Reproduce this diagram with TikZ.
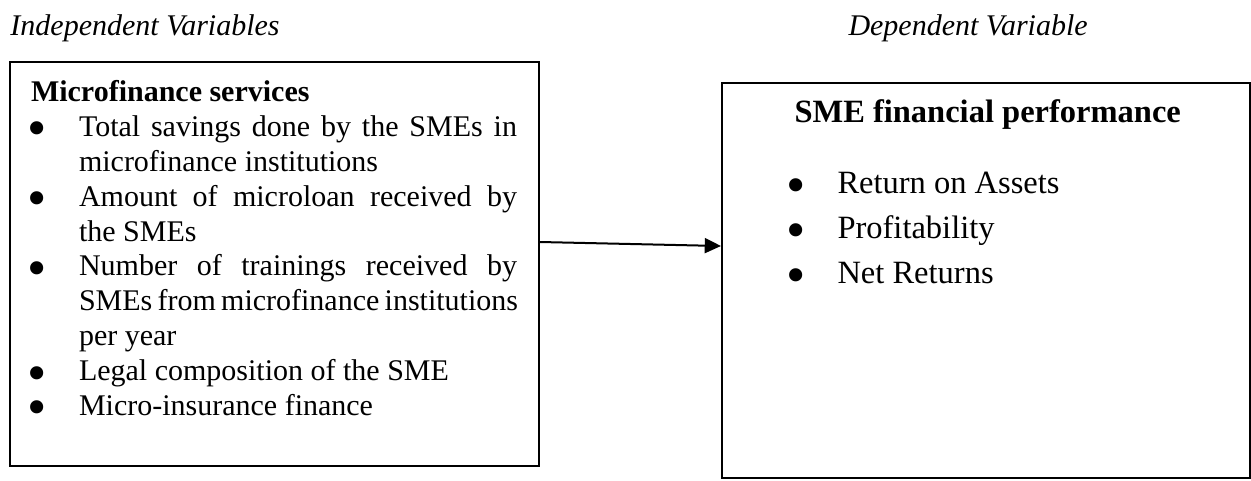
\documentclass[tikz,border=0pt]{standalone}
\usepackage{fontspec}
\setmainfont{Liberation Serif}
\usepackage{tikz}
\usetikzlibrary{calc,positioning,arrows.meta}

\newcommand{\bigdot}{\makebox[0pt]{\raisebox{-4.2pt}{\fontsize{22}{0}\selectfont\textbullet}}}
\newenvironment{varlist}[1]{%
  \begin{list}{\bigdot}{%
    \setlength{\leftmargin}{#1}\setlength{\labelwidth}{0pt}%
    \setlength{\labelsep}{#1}\setlength{\itemsep}{0pt}%
    \setlength{\parsep}{0pt}\setlength{\topsep}{0pt}\setlength{\partopsep}{0pt}}}%
  {\end{list}}

\begin{document}
\begin{tikzpicture}[x=0.4pt, y=-0.4pt,
    varbox/.style={draw, line width=0.8pt, anchor=north west, inner sep=0pt},
    head/.style={anchor=base west, inner sep=0pt, font=\fontsize{12}{14}\selectfont\itshape},
    link/.style={line width=0.8pt, -{Triangle[length=6.5pt, width=6pt]}}]
  \useasboundingbox (0,0) rectangle (1251,480);

  \node[head] (indep) at (10,35) {Independent Variables};
  \node[head] (dep) at (848,35) {Dependent Variable};

  \node[varbox, minimum width=211.6pt, minimum height=161.6pt] (services) at (9,61) {};
  \node[varbox, minimum width=211.2pt, minimum height=158pt] (perf) at (721,82) {};

  \node[anchor=base west, inner sep=0pt] (servicestext) at (36.5,101.5) {%
    \begin{minipage}[t]{192pt}
      \fontsize{12}{13.95}\selectfont\hyphenpenalty=10000
      \hspace*{-2.4pt}\textbf{Microfinance services}
      \begin{varlist}{16.8pt}
        \item Total savings done by the SMEs in\linebreak microfinance institutions
        \item Amount of microloan received by\linebreak the SMEs
        \item Number of trainings received by\linebreak
          \mbox{\spaceskip=2.1pt\relax SMEs from microfinance institutions}\linebreak per year
        \item Legal composition of the SME
        \item Micro-insurance finance
      \end{varlist}
    \end{minipage}%
  };

  \node[anchor=base west, inner sep=0pt, font=\fontsize{13}{15.6}\selectfont\bfseries]
    (perfhead) at (794,122) {SME financial performance};
  \node[anchor=base west, inner sep=0pt] (perftext) at (796,193) {%
    \begin{minipage}[t]{160pt}
      \fontsize{13}{18}\selectfont
      \begin{varlist}{16.4pt}
        \item Return on Assets
        \item Profitability
        \item Net Returns
      \end{varlist}
    \end{minipage}%
  };

  \draw[link] (services.east |- 0,242) -- (perf.west |- 0,246);
\end{tikzpicture}
\end{document}
